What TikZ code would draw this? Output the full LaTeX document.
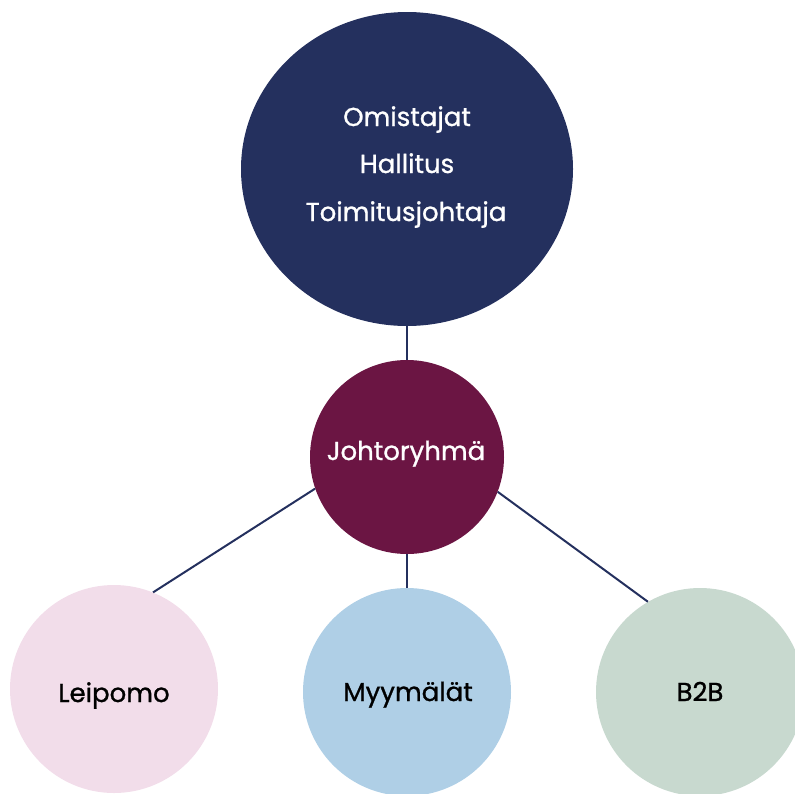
\documentclass[tikz,border=0pt]{standalone}
\usepackage{fontspec}
\setmainfont{Poppins}[BoldFont=Poppins, BoldFeatures={FakeBold=1.0}]
\usetikzlibrary{shapes.geometric}
\definecolor{navy}{HTML}{24305E}
\definecolor{wine}{HTML}{6B1543}
\definecolor{pinkc}{HTML}{F2DDEA}
\definecolor{bluec}{HTML}{AFCFE6}
\definecolor{greenc}{HTML}{C8D9CF}
\tikzset{
  bubble/.style={circle, inner sep=0pt, minimum size=208pt},
  lbl/.style={anchor=base, inner sep=0pt, font=\fontsize{26}{30}\selectfont\bfseries, text=black},
  link/.style={draw=navy, line width=2pt}
}
\begin{document}
\begin{tikzpicture}[x=1pt,y=-1pt]
\useasboundingbox (0,0) rectangle (795,793);
\clip (0,0) rectangle (795,793);
\node[ellipse, fill=navy, minimum width=332pt, minimum height=314pt, inner sep=0pt] (top) at (407,169) {};
\node[lbl, text=white] (t1) at (407,126) {Omistajat};
\node[lbl, text=white] (t2) at (407,173) {Hallitus};
\node[lbl, text=white] (t3) at (406,221) {Toimitusjohtaja};
\node[circle, fill=wine, minimum size=194pt, inner sep=0pt] (jr) at (407,457) {};
\node[lbl, text=white] (jrt) at (406,460) {Johtoryhmä};
\node[bubble, fill=pinkc] (lei) at (114,689) {};
\node[lbl] (leit) at (114,702) {Leipomo};
\node[bubble, fill=bluec] (myy) at (407,692) {};
\node[lbl] (myyt) at (408,701) {Myymälät};
\node[bubble, fill=greenc] (b2b) at (700,692) {};
\node[lbl] (b2bt) at (700,701) {B2B};
\draw[link] (top.south) -- (jr.north);
\draw[link] (jr.south) -- (myy.north);
\draw[link] (jr.199.6) -- (lei.68);
\draw[link] (jr.339.5) -- (b2b.120.6);
\end{tikzpicture}
\end{document}
